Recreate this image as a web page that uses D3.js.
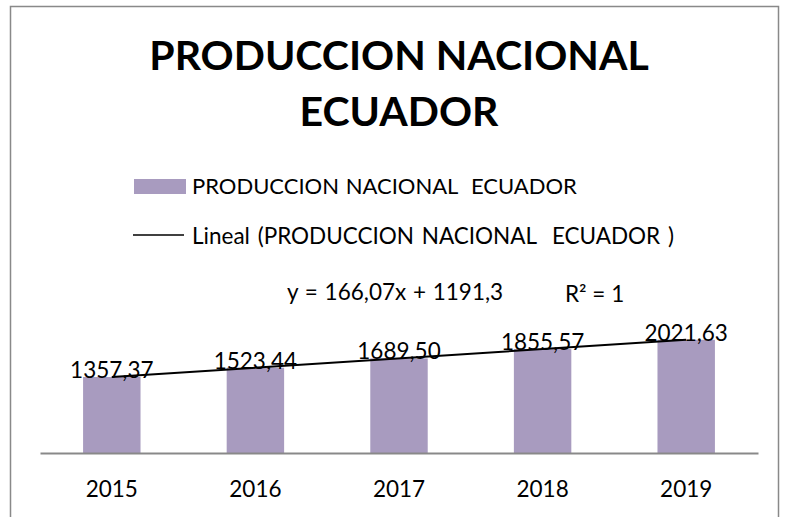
<!DOCTYPE html>
<html>
<head>
<meta charset="utf-8">
<script src="https://cdn.jsdelivr.net/npm/d3@7"></script>
<style>
  body { margin: 0; background: #fff; }
  svg { font-family: Lato, "Open Sans", sans-serif; }
</style>
</head>
<body>
<div id="chart"></div>
<script>
const years = ["2015", "2016", "2017", "2018", "2019"];
const production = [1357.37, 1523.44, 1689.50, 1855.57, 2021.63];
const trendSlope = 166.07;
const trendIntercept = 1191.3;
const titleLines = ["PRODUCCION NACIONAL", "ECUADOR"];
const seriesName = "PRODUCCION NACIONAL  ECUADOR";
const trendName = "Lineal (PRODUCCION NACIONAL  ECUADOR )";
const equationLabel = "y = 166,07x + 1191,3";
const rSquaredLabel = "R² = 1";

const width = 790, height = 517;
const barColor = "#a89bbf";

let svg = d3.select("#chart")
    .append("svg")
    .attr("width", width)
    .attr("height", height);

// chart frame
svg.append("rect")
    .attr("x", 10.5)
    .attr("y", 6.5)
    .attr("width", 768)
    .attr("height", 530)
    .attr("fill", "#fff")
    .attr("stroke", "#898989")
    .attr("stroke-width", 1.5);

// title
svg.selectAll(".title")
    .data(titleLines)
    .enter()
    .append("text")
    .attr("class", "title")
    .attr("x", 399)
    .attr("y", (d, i) => 70 + i * 56)
    .attr("text-anchor", "middle")
    .style("font-size", "41px")
    .style("font-weight", "bold")
    .text(d => d);

// legend
svg.append("rect")
    .attr("x", 134)
    .attr("y", 179)
    .attr("width", 52)
    .attr("height", 15)
    .attr("fill", barColor);
svg.append("text")
    .attr("x", 192)
    .attr("y", 194)
    .style("font-size", "22px")
    .style("word-spacing", "1px")
    .style("white-space", "pre")
    .text(seriesName);
svg.append("line")
    .attr("x1", 133)
    .attr("x2", 184)
    .attr("y1", 235)
    .attr("y2", 235)
    .attr("stroke", "#000")
    .attr("stroke-width", 1.5);
svg.append("text")
    .attr("x", 192)
    .attr("y", 244)
    .style("font-size", "22.5px")
    .style("word-spacing", "2px")
    .style("white-space", "pre")
    .text(trendName);

// scales
let xScale = d3.scaleBand()
    .domain(years)
    .range([40, 758])
    .paddingInner(0.6)
    .paddingOuter(0.3);

let yScale = d3.scaleLinear()
    .domain([0, 2500])
    .range([453, 313]);

// bars
svg.selectAll(".bar")
    .data(production)
    .enter()
    .append("rect")
    .attr("class", "bar")
    .attr("x", (d, i) => xScale(years[i]))
    .attr("y", d => yScale(d))
    .attr("width", xScale.bandwidth())
    .attr("height", d => yScale(0) - yScale(d))
    .attr("fill", barColor);

// x axis
let xAxis = svg.append("g")
    .attr("transform", "translate(0,453)")
    .call(d3.axisBottom(xScale).tickSize(0).tickSizeOuter(0));
xAxis.select(".domain")
    .attr("stroke", "#898989")
    .attr("stroke-width", 2);
xAxis.selectAll("text")
    .attr("y", 44)
    .attr("dy", 0)
    .style("font-family", "Lato, sans-serif")
    .style("font-size", "22.5px")
    .attr("fill", "#000");

// data labels
svg.selectAll(".value-label")
    .data(production)
    .enter()
    .append("text")
    .attr("class", "value-label")
    .attr("x", (d, i) => xScale(years[i]) + xScale.bandwidth() / 2)
    .attr("y", d => yScale(d) + 1)
    .attr("text-anchor", "middle")
    .style("font-size", "22.5px")
    .text(d => d3.format(".2f")(d).replace(".", ","));

// linear trendline
const trendPoints = years.map((y, i) => ({
    x: xScale(y) + xScale.bandwidth() / 2,
    v: trendIntercept + trendSlope * (i + 1)
}));
const first = trendPoints[0], last = trendPoints[trendPoints.length - 1];
svg.append("line")
    .attr("x1", first.x)
    .attr("y1", yScale(first.v))
    .attr("x2", last.x)
    .attr("y2", yScale(last.v))
    .attr("stroke", "#000")
    .attr("stroke-width", 2);

// equation and R²
svg.append("text")
    .attr("x", 287)
    .attr("y", 300)
    .style("font-size", "22.5px")
    .style("word-spacing", "1px")
    .text(equationLabel);
svg.append("text")
    .attr("x", 565)
    .attr("y", 302)
    .style("font-size", "22.5px")
    .text(rSquaredLabel);
</script>
</body>
</html>
